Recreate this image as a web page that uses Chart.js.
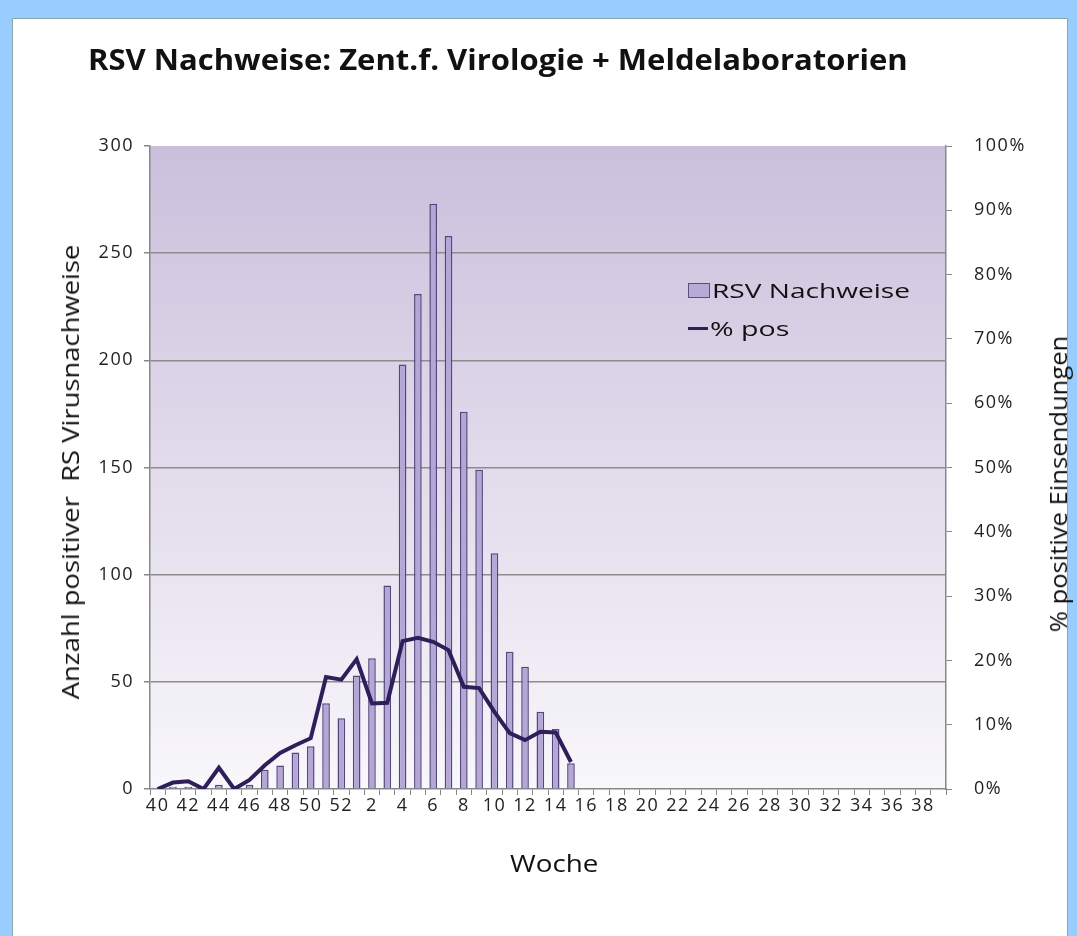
<!DOCTYPE html>
<html>
<head>
<meta charset="utf-8">
<script src="https://cdn.jsdelivr.net/npm/chart.js@4.4.1/dist/chart.umd.min.js"></script>
<style>
	body { margin:0; background:#99ccff; width:1077px; height:936px; overflow:hidden; font-family:"Open Sans", sans-serif; }
	#panel { position:absolute; left:12px; top:18px; width:1054px; height:930px; background:#fff; border:1px solid #8aa; }
	#chart-box { position:absolute; left:0; top:0; width:1077px; height:936px; }
	.lbl { position:absolute; color:#111; white-space:nowrap; transform-origin:0 0; }
	#title { left:88px; top:40px; font-size:28px; font-weight:bold; }
	#xtitle { left:510px; top:846px; font-size:24px; }
	#ytitle { font-size:23px; }
	#y1title { font-size:23px; }
	#legend { position:absolute; left:688px; top:275px; font-size:20px; color:#111; }
	#legend div { height:38px; line-height:28px; white-space:nowrap; }
	.sw { display:inline-block; width:20px; vertical-align:middle; margin-right:2px; }
	.ltxt { display:inline-block; transform-origin:0 50%; vertical-align:middle; }
</style>
</head>
<body>
<div id="panel"></div>
<div id="chart-box"><canvas id="myChart" width="1077" height="936"></canvas></div>
<div class="lbl" id="title">RSV Nachweise: Zent.f. Virologie + Meldelaboratorien</div>
<div class="lbl" id="xtitle">Woche</div>
<div class="lbl" id="ytitle">Anzahl positiver&nbsp; RS Virusnachweise</div>
<div class="lbl" id="y1title">% positive Einsendungen</div>
<div id="legend">
	<div><span class="sw" style="height:13px;background:#b7aad6;border:1px solid #5b4f7c;"></span><span class="ltxt" id="leg1">RSV Nachweise</span></div>
	<div><span class="sw" style="height:3px;background:#2e1f5a;"></span><span class="ltxt" id="leg2">% pos</span></div>
</div>
<script>
	// Weeks (season 40 .. 39)
	let weeks = [40,41,42,43,44,45,46,47,48,49,50,51,52,1,2,3,4,5,6,7,8,9,10,11,12,13,14,15,16,17,18,19,20,21,22,23,24,25,26,27,28,29,30,31,32,33,34,35,36,37,38,39];

	// RSV Nachweise (count per week)
	let rsvCounts = [0,1,1,0,2,0,2,9,11,17,20,40,33,53,61,95,198,231,273,258,176,149,110,64,57,36,28,12,
		null,null,null,null,null,null,null,null,null,null,null,null,null,null,null,null,null,null,null,null,null,null,null,null];

	// % positive Einsendungen
	let pctPos = [0,1.0,1.2,0,3.3,0,1.4,3.7,5.6,6.8,7.9,17.4,17.0,20.2,13.3,13.4,23.0,23.5,22.9,21.6,15.9,15.7,12.0,8.7,7.6,8.9,8.8,4.2,
		null,null,null,null,null,null,null,null,null,null,null,null,null,null,null,null,null,null,null,null,null,null,null,null];

	// Axis ticks
	let countTicks = [0,50,100,150,200,250,300];
	let pctTicks = [0,10,20,30,40,50,60,70,80,90,100];

	// the source picture is stretched sideways, so stretch the texts to the same widths
	function fitWidth(id, w){
		let el = document.getElementById(id);
		let s = w / el.offsetWidth;
		el.style.transform = 'scaleX(' + s + ')';
	}
	function rotated(id, cx, cy, len){
		let el = document.getElementById(id);
		let s = len / el.offsetWidth;
		el.style.left = cx + 'px';
		el.style.top = cy + 'px';
		el.style.transform = 'translate(-50%,-50%) rotate(-90deg) scaleX(' + s + ')';
		el.style.transformOrigin = '50% 50%';
	}
	fitWidth('title', 820);
	fitWidth('xtitle', 88);
	fitWidth('leg1', 198);
	fitWidth('leg2', 80);
	rotated('ytitle', 70, 472, 455);
	rotated('y1title', 1058, 484, 297);

	// purple gradient behind the plot + wider tick text
	let plotBg = {
		id:'plotBg',
		beforeInit(chart){ chart.ctx.letterSpacing = '1.5px'; },
		beforeDraw(chart){
			let a = chart.chartArea, c = chart.ctx;
			c.letterSpacing = '1.5px';
			let g = c.createLinearGradient(0, a.top, 0, a.bottom);
			g.addColorStop(0, '#cbbfdc');
			g.addColorStop(1, '#f8f7fb');
			c.save();
			c.fillStyle = g;
			c.fillRect(a.left, a.top, a.right-a.left, a.bottom-a.top);
			c.restore();
		}
	};

	let tickFont = { family:'"Open Sans", sans-serif', size:18 };

	var ctx = document.getElementById('myChart').getContext('2d');
	var chart = new Chart(ctx, {
		type: 'bar',
		data: {
			labels: weeks,
			datasets: [{
				type: 'line',
				label: '% pos',
				data: pctPos,
				yAxisID: 'y1',
				borderColor: '#2e1f5a',
				borderWidth: 4,
				pointRadius: 0,
				tension: 0,
				order: 0
			},{
				label: 'RSV Nachweise',
				data: rsvCounts,
				yAxisID: 'y',
				backgroundColor: '#b4a7d8',
				borderColor: '#54487a',
				borderWidth: 1.5,
				barPercentage: 0.5,
				categoryPercentage: 1,
				order: 1
			}]
		},
		options: {
			responsive: false,
			animation: false,
			layout: { padding: { top:146, left:0, right:0, bottom:0 } },
			plugins: { legend:{ display:false }, tooltip:{ enabled:false } },
			scales: {
				x: {
					offset: true,
					grid: { offset:true, drawOnChartArea:false, tickLength:6, color:'#888' },
					border: { color:'#888', width:1.5 },
					ticks: {
						autoSkip:false, maxRotation:0, padding:0, color:'#222', font:tickFont,
						callback: function(v, i){ return i % 2 === 0 ? weeks[i] : ''; }
					},
					afterFit: function(s){ s.height = 147; }
				},
				y: {
					position:'left', min:0, max:300,
					afterBuildTicks: function(s){ s.ticks = countTicks.map(v => ({value:v})); },
					grid: {
						color: function(c){ return c.tick.value === 0 || c.tick.value === 300 ? 'rgba(0,0,0,0)' : '#8c8c8c'; },
						tickColor:'#888', lineWidth:1.5, tickLength:6
					},
					border: { color:'#888', width:1.5 },
					ticks: { padding:10, color:'#222', font:tickFont },
					afterFit: function(s){ s.width = 150; }
				},
				y1: {
					position:'right', min:0, max:100,
					afterBuildTicks: function(s){ s.ticks = pctTicks.map(v => ({value:v})); },
					grid: { drawOnChartArea:false, tickLength:6, color:'#888' },
					border: { color:'#888', width:1.5 },
					ticks: { padding:22, color:'#222', font:tickFont, callback: v => v + '%' },
					afterFit: function(s){ s.width = 131; }
				}
			}
		},
		plugins: [plotBg]
	});
</script>
</body>
</html>
